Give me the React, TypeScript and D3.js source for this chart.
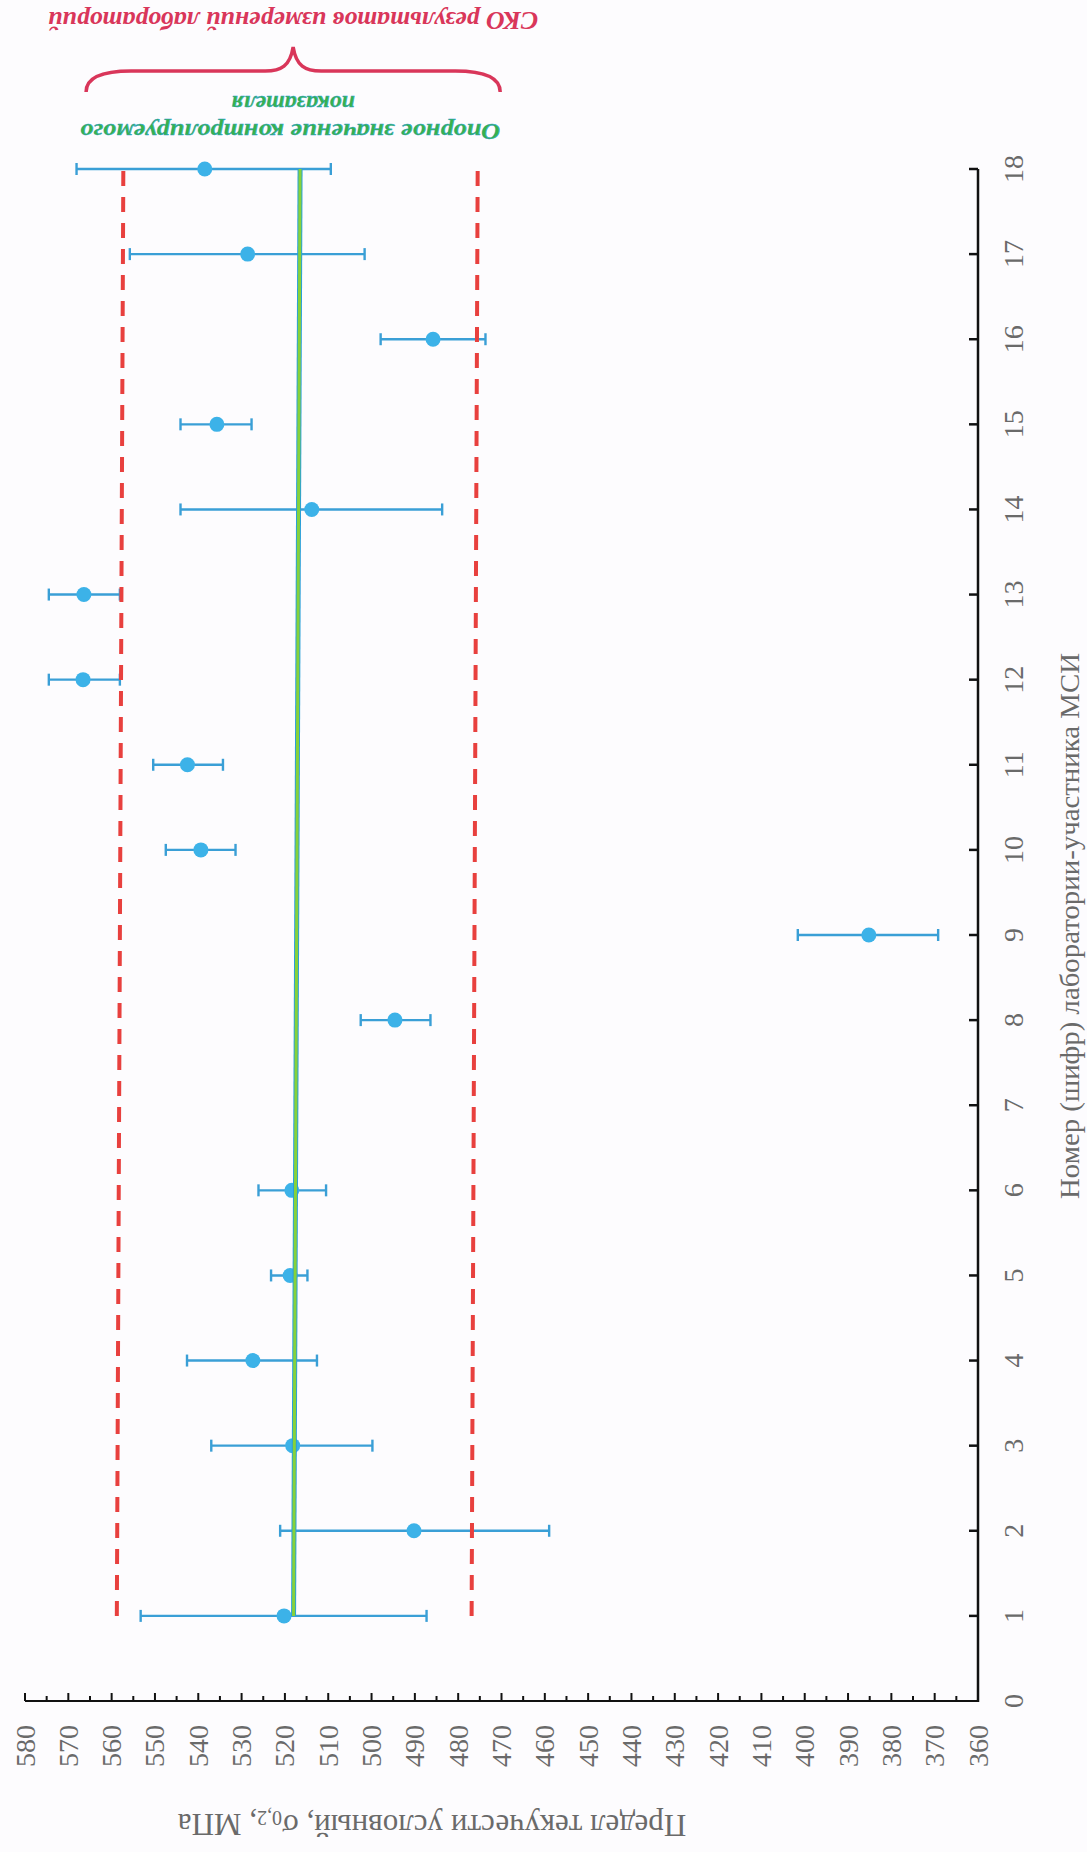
import React, { useEffect } from "react";
import * as d3 from "d3";

// Lab numbers (cipher) 1..18 (lab 7 has no result)
const labs = [1, 2, 3, 4, 5, 6, 8, 9, 10, 11, 12, 13, 14, 15, 16, 17, 18];
// Mean result, MPa
const means = [520.2, 490.2, 518.2, 527.4, 518.8, 518.4, 494.6, 385.2, 539.4, 542.5, 566.6, 566.4, 513.8, 535.7, 485.8, 528.6, 538.5];
// Lower end of error bar
const lows = [487.3, 459.0, 499.8, 512.6, 514.8, 510.5, 486.4, 369.2, 531.4, 534.3, 558.1, 558.1, 483.7, 527.7, 473.7, 501.6, 509.4];
// Upper end of error bar
const highs = [553.3, 521.1, 537.0, 542.6, 523.2, 526.1, 502.5, 401.6, 547.5, 550.4, 574.5, 574.5, 544.1, 544.1, 497.9, 555.8, 568.1];

// Reference value line (at lab 1 and lab 18) and ±SD limits
const refLine = [518.0, 516.5];
const upperLimit = [558.8, 557.3];
const lowerLimit = [476.9, 475.5];
const lineLabs = [1, 18];

const valueTicks = d3.range(360, 581, 10);
const minorTicks = d3.range(365, 580, 10);
const labTicks = d3.range(0, 19, 1);

const braceRange = [565.9, 470.3];

export default function App() {
  useEffect(() => {
    document.body.style.margin = "0";
  }, []);

  const W = 1087;
  const H = 1852;
  const x = d3.scaleLinear().domain([360, 580]).range([978, 25]);
  const y = d3.scaleLinear().domain([0, 18]).range([1701, 169]);

  const axisY = y(0);
  const axisX = x(360);

  const line2 = (vals: number[]) =>
    d3
      .line<number>()
      .x((v) => x(v))
      .y((_, i) => y(lineLabs[i]))(vals) as string;

  // brace path
  const bx1 = x(braceRange[0]);
  const bx2 = x(braceRange[1]);
  const bm = (bx1 + bx2) / 2;
  const p = d3.path();
  p.moveTo(bx1, 92);
  p.bezierCurveTo(bx1, 78, bx1 + 15, 71, bx1 + 45, 71);
  p.lineTo(bm - 28, 71);
  p.bezierCurveTo(bm - 12, 71, bm - 3, 66, bm, 47);
  p.bezierCurveTo(bm + 3, 66, bm + 12, 71, bm + 28, 71);
  p.lineTo(bx2 - 45, 71);
  p.bezierCurveTo(bx2 - 15, 71, bx2, 78, bx2, 92);

  const serif = "'Liberation Serif', 'Times New Roman', serif";
  const grey = "#6a6a6a";

  return (
    <svg width={W} height={H} style={{ display: "block" }} xmlns="http://www.w3.org/2000/svg">
      <rect width={W} height={H} fill="#fdfcfe" />

      {/* error bars */}
      {labs.map((l, i) => (
        <g key={"e" + l} stroke="#3a9fd6" strokeWidth={2.4}>
          <line x1={x(lows[i])} x2={x(highs[i])} y1={y(l)} y2={y(l)} />
          <line x1={x(lows[i])} x2={x(lows[i])} y1={y(l) - 6} y2={y(l) + 6} />
          <line x1={x(highs[i])} x2={x(highs[i])} y1={y(l) - 6} y2={y(l) + 6} />
        </g>
      ))}
      {labs.map((l, i) => (
        <circle key={"d" + l} cx={x(means[i])} cy={y(l)} r={7.5} fill="#3cb2e8" />
      ))}

      {/* SD limits */}
      <path d={line2(upperLimit)} stroke="#e8403e" strokeWidth={4} strokeDasharray="15 11" fill="none" />
      <path d={line2(lowerLimit)} stroke="#e8403e" strokeWidth={4} strokeDasharray="15 11" fill="none" />

      {/* reference line */}
      <path d={line2(refLine)} stroke="#2a9fd8" strokeWidth={5} fill="none" />
      <path d={line2(refLine)} stroke="#86d23a" strokeWidth={3} fill="none" />

      {/* value axis */}
      <line x1={x(580)} x2={axisX} y1={axisY} y2={axisY} stroke="#111" strokeWidth={2} />
      {valueTicks.map((v) => (
        <line key={"vt" + v} x1={x(v)} x2={x(v)} y1={axisY} y2={axisY - 8} stroke="#111" strokeWidth={2} />
      ))}
      {minorTicks.map((v) => (
        <line key={"mt" + v} x1={x(v)} x2={x(v)} y1={axisY} y2={axisY - 5} stroke="#111" strokeWidth={2} />
      ))}
      {valueTicks.map((v) => (
        <text
          key={"vl" + v}
          transform={`translate(${x(v)},1746) rotate(-90)`}
          textAnchor="middle"
          dominantBaseline="central"
          fontFamily={serif}
          fontSize={28}
          fill={grey}
        >
          {v}
        </text>
      ))}

      {/* lab axis */}
      <line x1={axisX} x2={axisX} y1={axisY + 1} y2={y(18)} stroke="#111" strokeWidth={2.5} />
      {labTicks.filter((t) => t > 0).map((t) => (
        <line key={"lt" + t} x1={axisX - 9} x2={axisX} y1={y(t)} y2={y(t)} stroke="#111" strokeWidth={2.5} />
      ))}
      {labTicks.map((t) => (
        <text
          key={"ll" + t}
          transform={`translate(1013,${y(t)}) rotate(-90)`}
          textAnchor="middle"
          dominantBaseline="central"
          fontFamily={serif}
          fontSize={28}
          fill={grey}
        >
          {t}
        </text>
      ))}

      {/* axis titles */}
      <text
        transform="translate(1069,926) rotate(-90)"
        textAnchor="middle"
        dominantBaseline="central"
        fontFamily={serif}
        fontSize={28}
        fill={grey}
        textLength={546}
        lengthAdjust="spacingAndGlyphs"
      >
        Номер (шифр) лаборатории-участника МСИ
      </text>
      <text
        transform="translate(432,1825) rotate(180)"
        textAnchor="middle"
        dominantBaseline="central"
        fontFamily={serif}
        fontSize={31}
        fill={grey}
      >
        Предел текучести условный, σ
        <tspan fontSize={20} dy={7}>0,2</tspan>
        <tspan dy={-7}>, МПа</tspan>
      </text>

      {/* annotations */}
      <path d={p.toString()} stroke="#d9365a" strokeWidth={3.5} fill="none" />
      <text
        transform={`translate(${bm},20) rotate(180)`}
        textAnchor="middle"
        dominantBaseline="central"
        fontFamily={serif}
        fontSize={26}
        fontWeight="bold"
        fontStyle="italic"
        fill="#d9365a"
        textLength={490}
        lengthAdjust="spacingAndGlyphs"
      >
        СКО результатов измерений лабораторий
      </text>
      <text
        transform={`translate(${bm},104) rotate(180)`}
        textAnchor="middle"
        dominantBaseline="central"
        fontFamily={serif}
        fontSize={24}
        fontWeight="bold"
        fontStyle="italic"
        fill="#38b24a"
        stroke="#2a9fd8"
        strokeWidth={0.4}
      >
        показателя
      </text>
      <text
        transform={`translate(${bm - 3},132) rotate(180)`}
        textAnchor="middle"
        dominantBaseline="central"
        fontFamily={serif}
        fontSize={24}
        fontWeight="bold"
        fontStyle="italic"
        fill="#38b24a"
        stroke="#2a9fd8"
        strokeWidth={0.4}
        textLength={420}
        lengthAdjust="spacingAndGlyphs"
      >
        Опорное значение контролируемого
      </text>
    </svg>
  );
}
